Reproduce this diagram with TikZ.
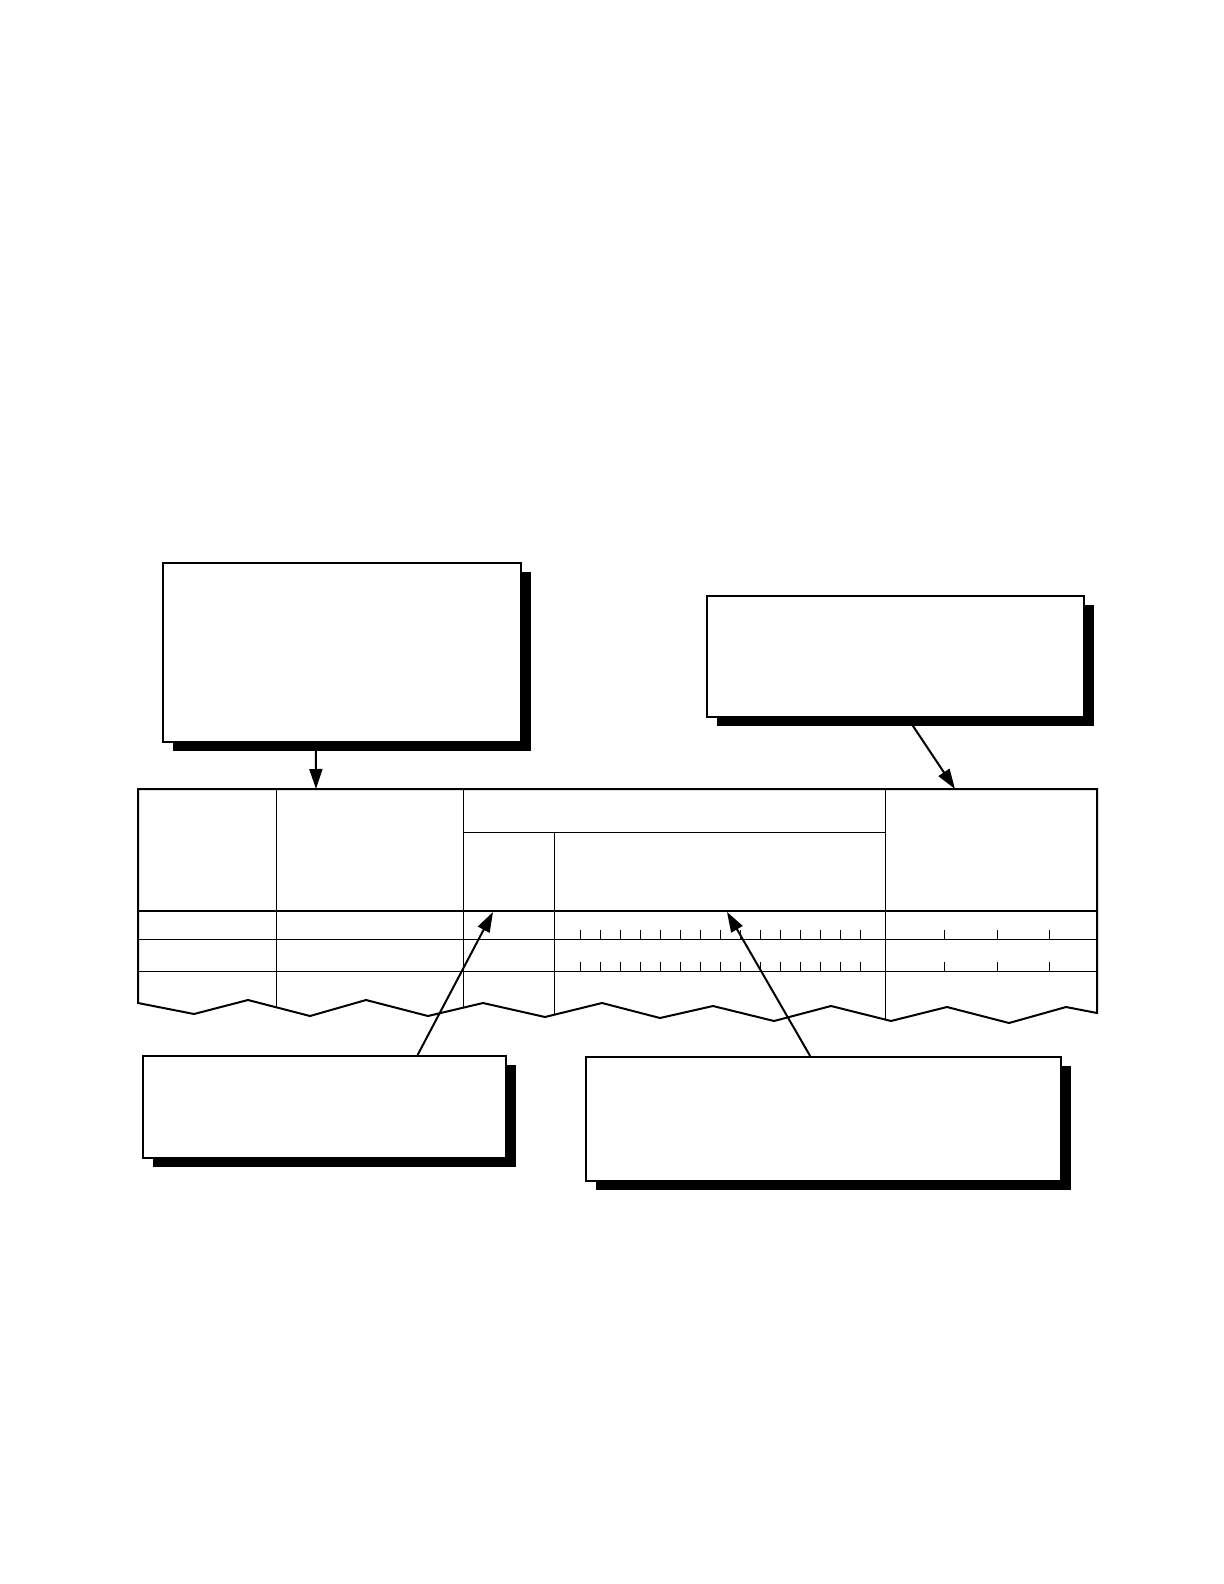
\documentclass[tikz,border=0pt]{standalone}
\usetikzlibrary{arrows.meta,shadows,calc}
\begin{document}
\begin{tikzpicture}[x=0.5pt,y=-0.5pt,
  callout/.style={draw,line width=1pt,fill=white,inner sep=0pt,
    drop shadow={shadow xshift=5pt,shadow yshift=-4.5pt,fill=black,opacity=1}},
  arr/.style={line width=1pt,-{Triangle[length=10pt,width=6.5pt]}},
  thinline/.style={line width=0.5pt},
  borderline/.style={line width=1pt,line join=miter}]
\useasboundingbox (0,0) rectangle (1224,1584);
\fill[white] (0,0) rectangle (1224,1584);

% callout boxes
\node[callout,minimum width=179pt,minimum height=89.5pt] (b1) at (342,652.5) {};
\node[callout,minimum width=188.5pt,minimum height=60.5pt] (b2) at (895.5,656.5) {};
\node[callout,minimum width=181.5pt,minimum height=51pt] (b3) at (324.5,1107) {};
\node[callout,minimum width=237.5pt,minimum height=62pt] (b4) at (823.5,1119) {};

% table interior
\begin{scope}
\clip (138,789) -- (1097,789) -- (1097,1013) -- (1066,1007) -- (1009,1023) -- (947,1007)
  -- (891,1021) -- (831,1006) -- (774,1021) -- (713,1006) -- (660,1018) -- (602,1003)
  -- (545,1017) -- (483,1003) -- (428,1016) -- (366,1000) -- (310,1016) -- (248,1000)
  -- (194,1014) -- (138,1003) -- cycle;
\draw[thinline] (276,789) -- (276,1040);
\draw[thinline] (463,789) -- (463,1040);
\draw[thinline] (554,832) -- (554,1040);
\draw[thinline] (885,789) -- (885,1040);
\draw[thinline] (463,832) -- (885,832);
\draw[thinline] (138,939) -- (1097,939);
\draw[thinline] (138,971) -- (1097,971);
\draw[line width=1pt] (138,911) -- (1097,911);
\foreach \x in {0,...,14} {
  \draw[thinline] ({580+20*\x},939) -- ++(0,-9);
  \draw[thinline] ({580+20*\x},971) -- ++(0,-9);
}
\foreach \x in {944,997,1049} {
  \draw[thinline] (\x,939) -- ++(0,-9);
  \draw[thinline] (\x,971) -- ++(0,-9);
}
\end{scope}
\draw[borderline] (138,789) -- (1097,789) -- (1097,1013) -- (1066,1007) -- (1009,1023) -- (947,1007)
  -- (891,1021) -- (831,1006) -- (774,1021) -- (713,1006) -- (660,1018) -- (602,1003)
  -- (545,1017) -- (483,1003) -- (428,1016) -- (366,1000) -- (310,1016) -- (248,1000)
  -- (194,1014) -- (138,1003) -- cycle;

% arrow tips on the table
\coordinate (t1) at (316,789);
\coordinate (t2) at (955,789);
\coordinate (t3) at (493,912);
\coordinate (t4) at (727,912);

\draw[arr] ($(b1.south west)!0.427!(b1.south east)$) -- (t1);
\draw[arr] ($(b2.south west)!0.532!(b2.south east)$) -- (t2);
\draw[arr] ($(b3.north west)!0.755!(b3.north east)$) -- (t3);
\draw[arr] ($(b4.north west)!0.472!(b4.north east)$) -- (t4);
\end{tikzpicture}
\end{document}
